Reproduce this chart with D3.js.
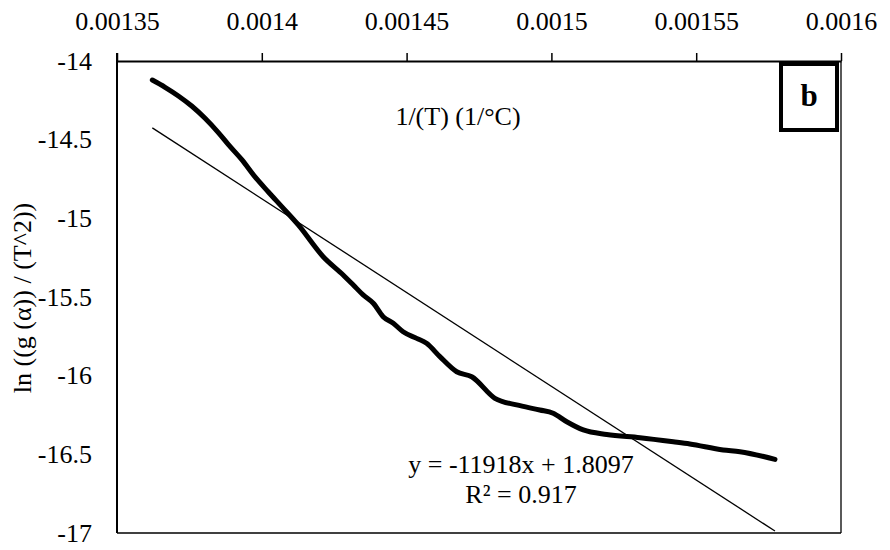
<!DOCTYPE html>
<html>
<head>
<meta charset="utf-8">
<script src="https://cdn.jsdelivr.net/npm/d3@7"></script>
<style>
  body { margin: 0; background: #fff; }
  text { font-family: "Liberation Serif", "Times New Roman", serif; fill: #000; }
</style>
</head>
<body>
<script>
// data
var invT = [0.0013622, 0.0013666, 0.0013712, 0.0013758, 0.0013804, 0.001385, 0.0013884, 0.0013931,
  0.0013976, 0.0014022, 0.0014069, 0.0014126, 0.0014212, 0.0014281, 0.0014316, 0.001435,
  0.0014385, 0.0014419, 0.0014454, 0.0014488, 0.0014535, 0.0014569, 0.0014615, 0.0014673,
  0.0014725, 0.0014805, 0.001488, 0.001496, 0.0015006, 0.0015053, 0.001511, 0.0015191,
  0.0015306, 0.0015421, 0.0015478, 0.0015593, 0.0015651, 0.0015772];
var lnG = [-14.121, -14.167, -14.222, -14.286, -14.364, -14.455, -14.53, -14.627,
  -14.735, -14.831, -14.926, -15.042, -15.244, -15.36, -15.424, -15.487,
  -15.54, -15.625, -15.667, -15.721, -15.763, -15.794, -15.879, -15.975,
  -16.007, -16.144, -16.186, -16.218, -16.239, -16.293, -16.345, -16.374,
  -16.394, -16.42, -16.434, -16.472, -16.483, -16.532];

var xTicks = [0.00135, 0.0014, 0.00145, 0.0015, 0.00155, 0.0016];
var yTicks = [-14, -14.5, -15, -15.5, -16, -16.5, -17];

var slope = -11918, intercept = 1.8097;
var eqText = "y = -11918x + 1.8097";
var r2Text = "R² = 0.917";
var xTitle = "1/(T) (1/°C)";
var yTitle = "ln ((g (α)) / (T^2))";
var panel = "b";

var W = 890, H = 550;
var m = {left: 117, top: 61, right: 841, bottom: 533};
var serif = "'Liberation Serif', 'Times New Roman', serif";

var svg = d3.select("body")
  .append("svg")
  .attr("width", W)
  .attr("height", H)

var x = d3.scaleLinear().domain([0.00135, 0.0016]).range([m.left, m.right]);
var y = d3.scaleLinear().domain([-17, -14]).range([m.bottom, m.top]);

// plot border (right + bottom thin)
svg.append("line")
  .attr("x1", m.right).attr("x2", m.right)
  .attr("y1", m.top).attr("y2", m.bottom)
  .attr("stroke", "#000").attr("stroke-width", 1.3);
svg.append("line")
  .attr("x1", m.left).attr("x2", m.right)
  .attr("y1", m.bottom).attr("y2", m.bottom)
  .attr("stroke", "#000").attr("stroke-width", 1.5);

// top x axis
var xAxis = svg.append("g")
  .attr("transform", "translate(0," + m.top + ")")
  .call(d3.axisTop(x).tickValues(xTicks).tickFormat(function(d){ return String(d); }).tickSize(8).tickSizeOuter(0));
xAxis.attr("font-family", serif);
xAxis.select(".domain").attr("stroke-width", 2);
xAxis.selectAll(".tick line").attr("stroke-width", 1.5);
xAxis.selectAll(".tick text")
  .attr("y", -31).attr("dy", "0")
  .style("font-size", "26px")
  .style("font-family", serif);

// left y axis, no ticks
var yAxis = svg.append("g")
  .attr("transform", "translate(" + m.left + ",0)")
  .call(d3.axisLeft(y).tickValues(yTicks).tickFormat(function(d){ return String(d); }).tickSize(0).tickSizeOuter(0));
yAxis.attr("font-family", serif);
yAxis.select(".domain").attr("stroke-width", 2).attr("d", "M0," + (m.top - 8) + "V" + m.bottom);
yAxis.selectAll(".tick text")
  .attr("x", -25)
  .style("font-size", "26px")
  .style("font-family", serif);

// trendline from equation over data range
var xr = d3.extent(invT);
svg.append("line")
  .attr("x1", x(xr[0])).attr("y1", y(slope * xr[0] + intercept))
  .attr("x2", x(xr[1])).attr("y2", y(slope * xr[1] + intercept))
  .attr("stroke", "#000").attr("stroke-width", 1.3);

// data curve
var pts = invT.map(function(d, i){ return [d, lnG[i]]; });
svg.append("path")
  .datum(pts)
  .attr("fill", "none")
  .attr("stroke", "#000")
  .attr("stroke-width", 5)
  .attr("stroke-linecap", "round")
  .attr("stroke-linejoin", "round")
  .attr("d", d3.line().curve(d3.curveMonotoneX)
    .x(function(d){ return x(d[0]); })
    .y(function(d){ return y(d[1]); }));

// titles
svg.append("text")
  .attr("x", 458).attr("y", 125)
  .attr("text-anchor", "middle")
  .style("font-size", "26px")
  .text(xTitle);

svg.append("text")
  .attr("transform", "translate(31,298) rotate(-90)")
  .attr("text-anchor", "middle")
  .style("font-size", "26px")
  .text(yTitle);

// equation
svg.append("text")
  .attr("x", 521).attr("y", 473)
  .attr("text-anchor", "middle")
  .style("font-size", "26px")
  .text(eqText);
svg.append("text")
  .attr("x", 521).attr("y", 503)
  .attr("text-anchor", "middle")
  .style("font-size", "26px")
  .text(r2Text);

// panel label box
svg.append("rect")
  .attr("x", 781).attr("y", 64)
  .attr("width", 56).attr("height", 66)
  .attr("fill", "#fff")
  .attr("stroke", "#000").attr("stroke-width", 4);
svg.append("text")
  .attr("x", 809).attr("y", 106)
  .attr("text-anchor", "middle")
  .style("font-size", "31px")
  .style("font-weight", "bold")
  .text(panel);
</script>
</body>
</html>
